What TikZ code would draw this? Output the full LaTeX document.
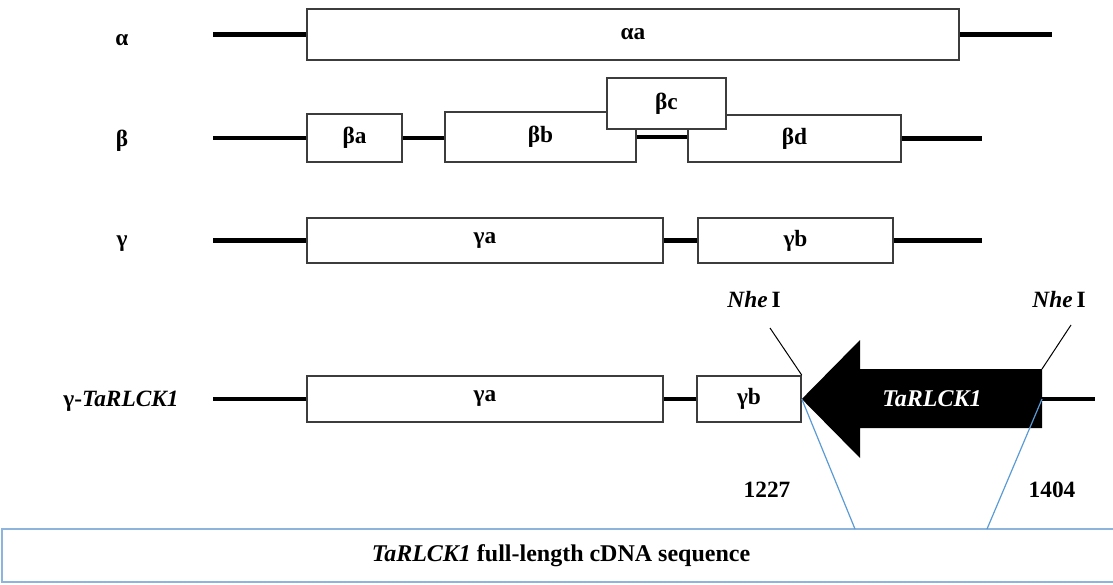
\documentclass[tikz,border=0pt]{standalone}
\usepackage{fontspec}
\setmainfont{Liberation Serif}
\usetikzlibrary{positioning}

\tikzset{every picture/.style={line width=0.75pt}}
\tikzset{
  exon/.style={draw={rgb, 255:red, 60; green, 60; blue, 60}, line width=1.2pt, fill=white, inner sep=0pt, font=\fontsize{17.5}{20}\selectfont\bfseries},
  intron/.style={line width=3.4pt},
  rowlbl/.style={inner sep=0.75pt, font=\fontsize{17.5}{20}\selectfont\bfseries},
  seqline/.style={color={rgb, 255:red, 91; green, 155; blue, 213}, line width=0.9pt},
}

\begin{document}
\begin{tikzpicture}[x=0.75pt,y=0.75pt,yscale=-1,xscale=1]
\useasboundingbox (0,0) rectangle (1113,585);

% Row alpha
\node [rowlbl] (la) at (122,40) {α};
\node [exon, minimum width=489pt, minimum height=38.25pt] (aa) at (633,34.5) {αa};
\coordinate (a0) at (213,34.5);
\coordinate (a1) at (1052,34.5);
\draw [intron] (a0) -- (aa.west);
\draw [intron] (aa.east) -- (a1);

% Row beta
\node [rowlbl] (lb) at (122,141) {β};
\node [exon, minimum width=71.25pt, minimum height=36pt] (ba) at (354.5,138) {βa};
\node [exon, minimum width=143.25pt, minimum height=37.5pt] (bb) at (540.5,137) {βb};
\node [exon, minimum width=159.75pt, minimum height=35.25pt] (bd) at (794.5,138.5) {βd};
\node [exon, minimum width=89.25pt, minimum height=38.25pt] (bc) at (666.5,103.5) {βc};
\coordinate (b0) at (213,138);
\coordinate (b1) at (982,138);
\draw [intron] (b0) -- (ba.west);
\draw [intron] (ba.east) -- (bb.west |- ba.east);
\draw [intron] (bb.east) -- (bd.west |- bb.east);
\draw [intron] (bd.east) -- (b1 |- bd.east);

% Row gamma
\node [rowlbl] (lc) at (122,244) {γ};
\node [exon, minimum width=267pt, minimum height=33.75pt] (ca) at (485,240.5) {γa};
\node [exon, minimum width=146.25pt, minimum height=33.75pt] (cb) at (795.5,240.5) {γb};
\coordinate (c0) at (213,240.5);
\coordinate (c1) at (982,240.5);
\draw [intron] (c0) -- (ca.west);
\draw [intron] (ca.east) -- (cb.west);
\draw [intron] (cb.east) -- (c1);

% Row gamma-TaRLCK1
\node [rowlbl] (ld) at (121,401) {γ-\textit{TaRLCK1}};
\node [exon, minimum width=267pt, minimum height=34.5pt] (da) at (485,399) {γa};
\node [exon, minimum width=78pt, minimum height=34.5pt] (db) at (749,399) {γb};
\coordinate (d0) at (213,399);
\coordinate (tail) at (1042,399);
\coordinate (d1) at (1095,399);
\draw [intron] (d0) -- (da.west);
\draw [intron] (da.east) -- (db.west);
\draw [intron] (tail) -- (d1);

%Arrow
\fill (db.east) -- (860,340) -- (860,369) -- (1042,369) -- (1042,428) -- (860,428) -- (860,458) -- cycle;
\node [rowlbl, text=white, font=\fontsize{18}{20}\selectfont\bfseries\itshape] (gene) at (932,399) {TaRLCK1};

% NheI sites
\node [rowlbl] (nhe1) at (754,300) {\textit{Nhe}\,I};
\node [rowlbl] (nhe2) at (1059,300) {\textit{Nhe}\,I};
\coordinate (n1) at (770,328);
\coordinate (n2) at (1071,325);
\coordinate (cut2) at (1042,369);
\draw (n1) -- (db.north east);
\draw (n2) -- (cut2);

% Positions
\node [rowlbl] (p1) at (767,490) {1227};
\node [rowlbl] (p2) at (1052,490) {1404};

% cDNA box
\node [draw={rgb, 255:red, 140; green, 180; blue, 220}, line width=1pt, minimum width=838.5pt, minimum height=39.75pt, inner sep=0pt, font=\fontsize{18}{21}\selectfont\bfseries] (cdna) at (561,555.5) {\textit{TaRLCK1} full-length cDNA sequence};
\coordinate (s1) at (855,529);
\coordinate (s2) at (987,529);
\draw [seqline] (db.east) -- (s1);
\draw [seqline] (tail) -- (s2);

\end{tikzpicture}
\end{document}
